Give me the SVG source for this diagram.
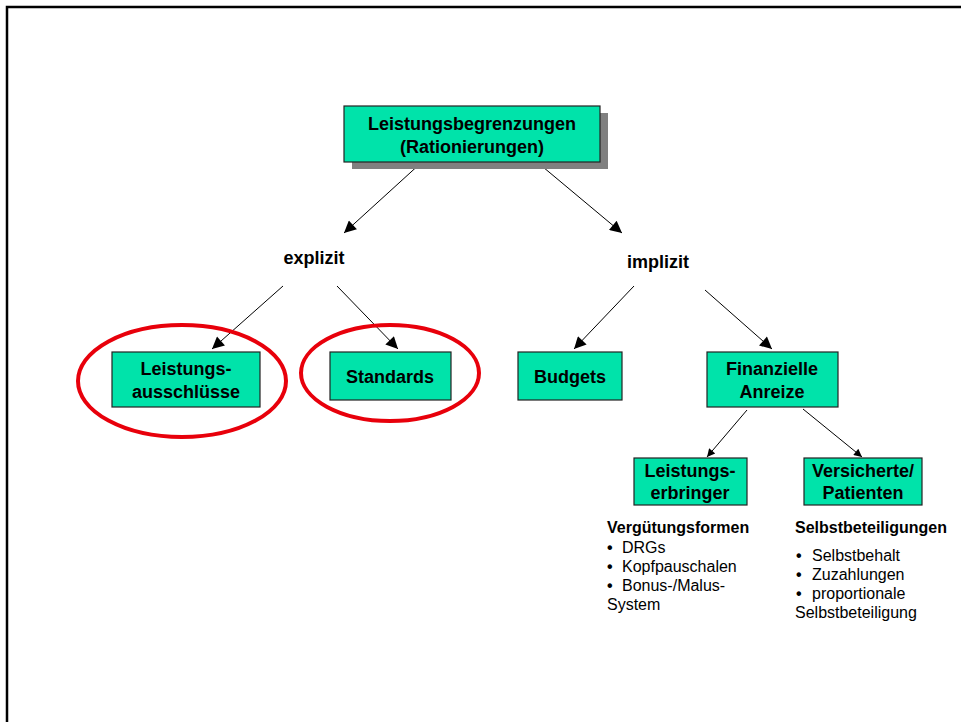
<svg xmlns="http://www.w3.org/2000/svg" width="961" height="722" viewBox="0 0 961 722">
<style>
.box{fill:#00E3AA;stroke:#222;stroke-width:1.2}
.nt{font-family:"Liberation Sans",Arial,sans-serif;font-weight:bold;font-size:18px;fill:#000;text-anchor:middle}
.lt{font-family:"Liberation Sans",Arial,sans-serif;font-size:16px;fill:#000}
.lb{font-weight:bold}
.bu{font-family:"Liberation Sans",Arial,sans-serif;font-size:16px;font-weight:bold;fill:#000}
.conn{stroke:#000;stroke-width:1;fill:none}
.ring{fill:none;stroke:#E8000B;stroke-width:4}
</style>
<defs>
<marker id="ah" viewBox="0 0 10 10" refX="10" refY="5" markerWidth="15" markerHeight="12" markerUnits="userSpaceOnUse" orient="auto">
<path d="M0,0 L10,5 L0,10 z" fill="#000"/>
</marker>
<marker id="ahs" viewBox="0 0 10 10" refX="10" refY="5" markerWidth="10" markerHeight="8" markerUnits="userSpaceOnUse" orient="auto">
<path d="M0,0 L10,5 L0,10 z" fill="#000"/>
</marker>
</defs>
<rect width="961" height="722" fill="#fff"/>
<path d="M7,722 V7 H961" fill="none" stroke="#000" stroke-width="2.5"/>

<g id="connectors">
<line class="conn" x1="422" y1="162" x2="344" y2="233" marker-end="url(#ah)"/>
<line class="conn" x1="537" y1="162" x2="622" y2="233" marker-end="url(#ah)"/>
<line class="conn" x1="283" y1="286" x2="212" y2="349" marker-end="url(#ah)"/>
<line class="conn" x1="337" y1="286" x2="398" y2="349" marker-end="url(#ah)"/>
<line class="conn" x1="634" y1="286" x2="574" y2="349" marker-end="url(#ah)"/>
<line class="conn" x1="705" y1="290" x2="772" y2="349" marker-end="url(#ah)"/>
<line class="conn" x1="747" y1="410" x2="707" y2="457" marker-end="url(#ahs)"/>
<line class="conn" x1="803" y1="409" x2="862" y2="457" marker-end="url(#ahs)"/>
</g>

<g id="root">
<rect x="352" y="113" width="256" height="56" fill="#808080"/>
<rect class="box" x="344" y="106" width="256" height="56"/>
<text class="nt" x="472" y="130">Leistungsbegrenzungen</text>
<text class="nt" x="472" y="153">(Rationierungen)</text>
</g>

<g id="explizit">
<text class="nt" x="314" y="264">explizit</text>
</g>
<g id="implizit">
<text class="nt" x="658" y="268">implizit</text>
</g>

<g id="leistungsausschluesse">
<rect class="box" x="112" y="352" width="148" height="55"/>
<text class="nt" x="186" y="375">Leistungs-</text>
<text class="nt" x="186" y="398">ausschlüsse</text>
<ellipse class="ring" cx="182" cy="381" rx="104" ry="56"/>
</g>

<g id="standards">
<rect class="box" x="330" y="352" width="121" height="48"/>
<text class="nt" x="390" y="383">Standards</text>
<ellipse class="ring" cx="390" cy="373" rx="89" ry="48"/>
</g>

<g id="budgets">
<rect class="box" x="518" y="352" width="104" height="48"/>
<text class="nt" x="570" y="383">Budgets</text>
</g>

<g id="finanzielle-anreize">
<rect class="box" x="707" y="352" width="131" height="55"/>
<text class="nt" x="772" y="375">Finanzielle</text>
<text class="nt" x="772" y="398">Anreize</text>
</g>

<g id="leistungserbringer">
<rect class="box" x="634" y="458" width="113" height="47"/>
<text class="nt" x="690" y="477">Leistungs-</text>
<text class="nt" x="690" y="499">erbringer</text>
</g>

<g id="versicherte">
<rect class="box" x="804" y="458" width="118" height="47"/>
<text class="nt" x="863" y="477">Versicherte/</text>
<text class="nt" x="863" y="499">Patienten</text>
</g>

<g id="list-verguetung">
<text class="lt lb" x="607" y="533">Vergütungsformen</text>
<text class="bu" x="607" y="553">•</text><text class="lt" x="622" y="553">DRGs</text>
<text class="bu" x="607" y="572">•</text><text class="lt" x="622" y="572">Kopfpauschalen</text>
<text class="bu" x="607" y="591">•</text><text class="lt" x="622" y="591">Bonus-/Malus-</text>
<text class="lt" x="607" y="610">System</text>
</g>

<g id="list-selbstbeteiligung">
<text class="lt lb" x="795" y="533">Selbstbeteiligungen</text>
<text class="bu" x="796" y="561">•</text><text class="lt" x="812" y="561">Selbstbehalt</text>
<text class="bu" x="796" y="580">•</text><text class="lt" x="812" y="580">Zuzahlungen</text>
<text class="bu" x="796" y="599">•</text><text class="lt" x="812" y="599">proportionale</text>
<text class="lt" x="795" y="618">Selbstbeteiligung</text>
</g>
</svg>
